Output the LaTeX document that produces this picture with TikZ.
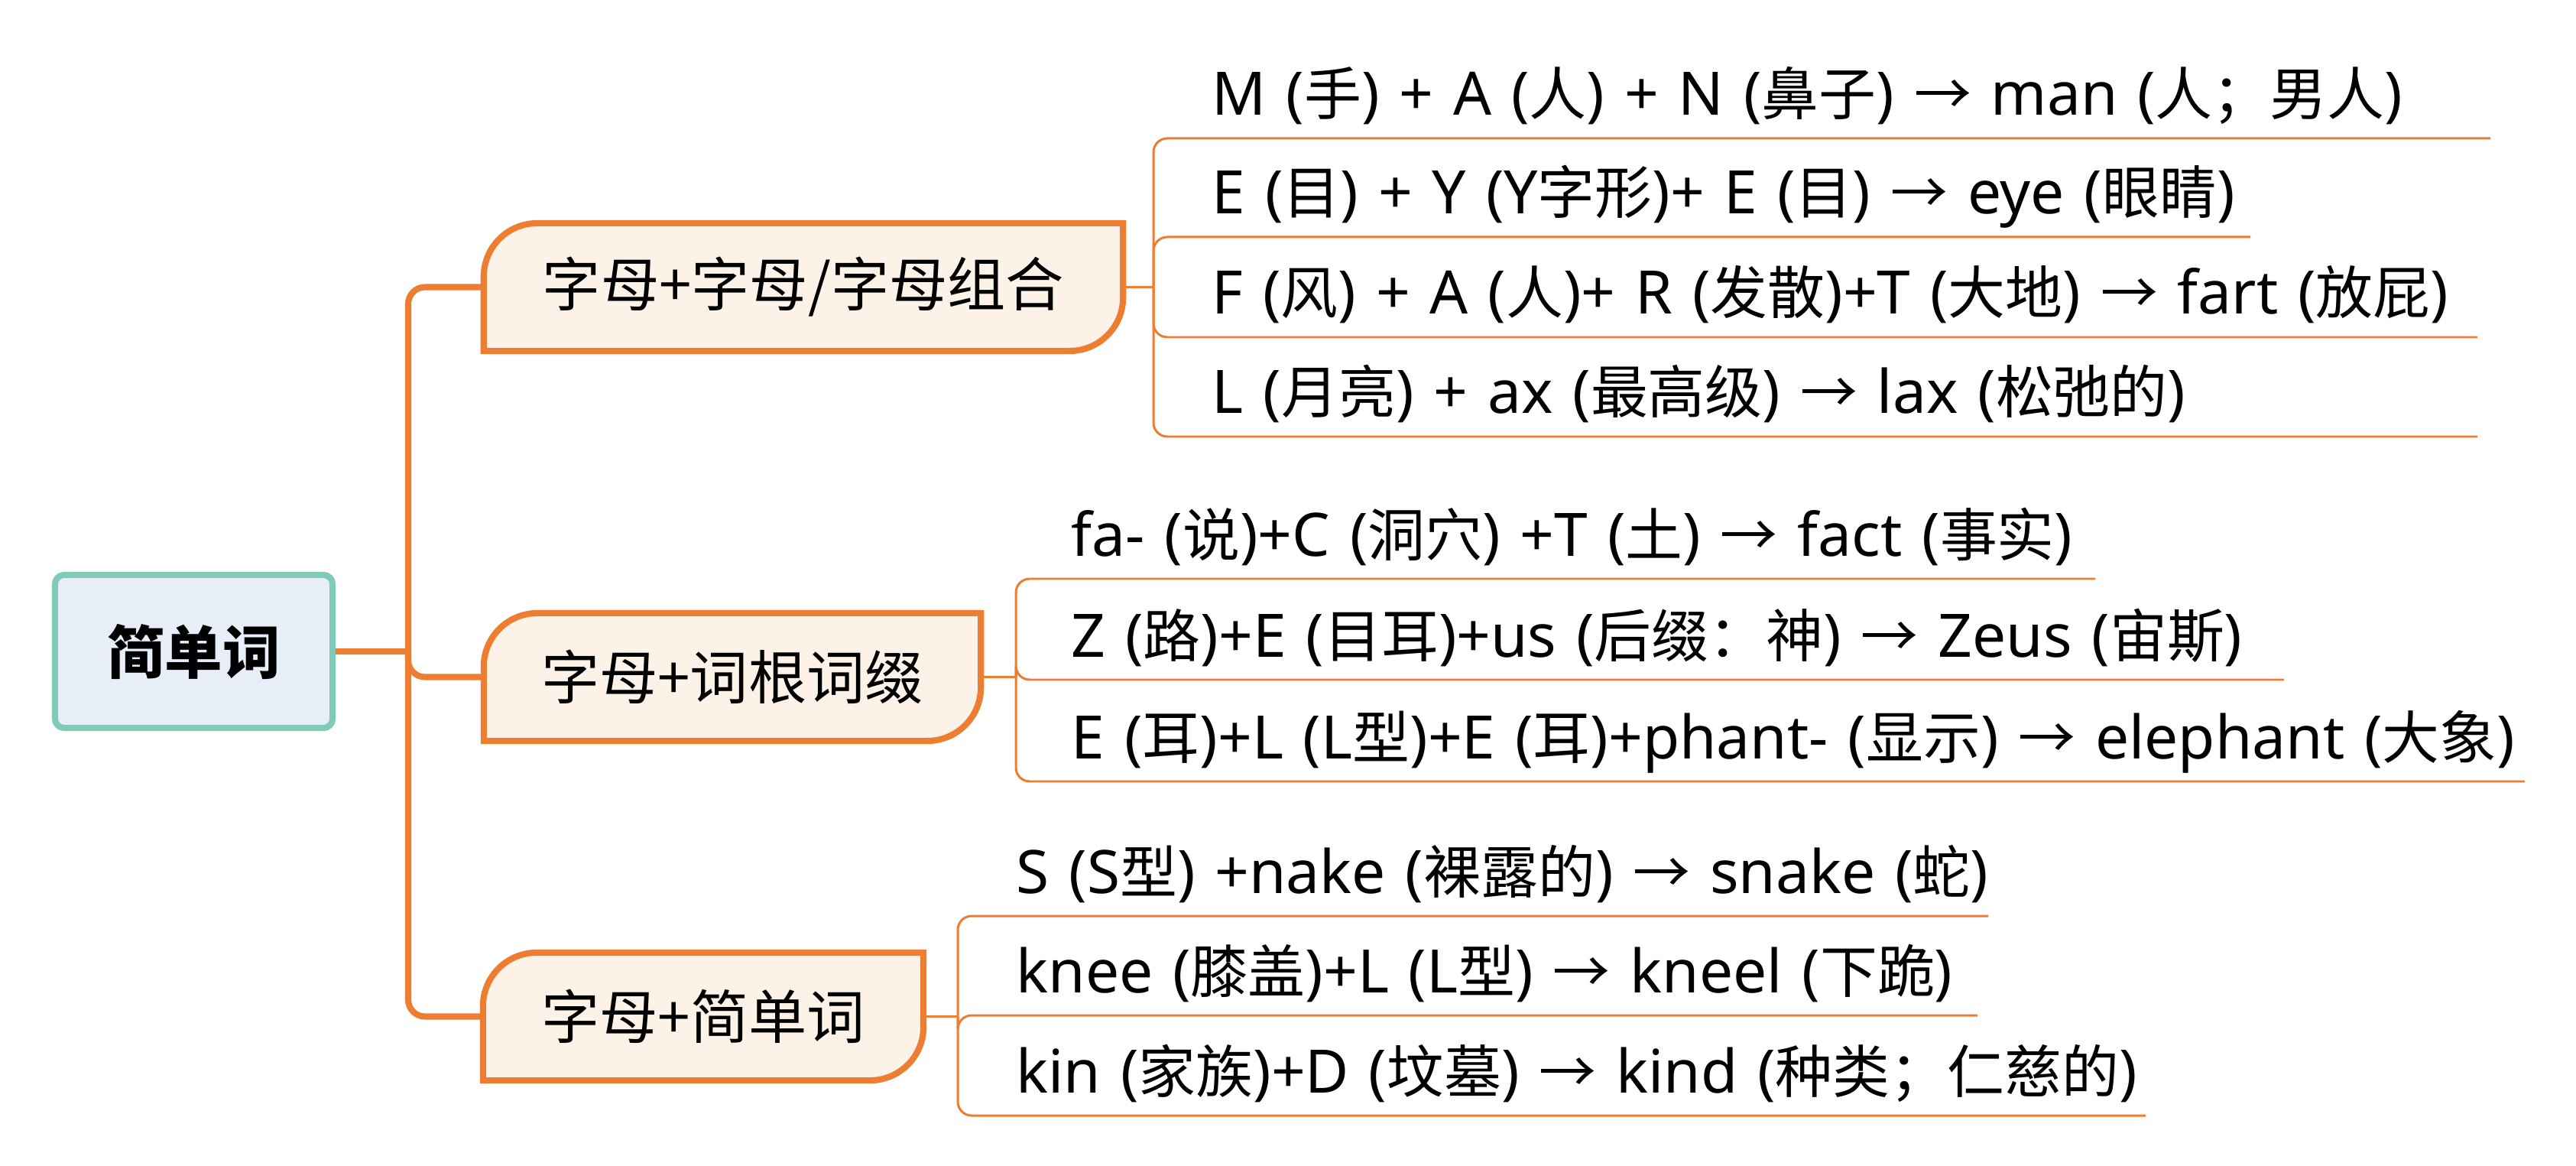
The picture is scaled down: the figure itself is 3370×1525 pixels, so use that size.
\documentclass[tikz,border=0pt]{standalone}
\usepackage{fontspec}
\setmainfont{Noto Sans}
\newfontfamily\cjk{Noto Sans CJK SC}[Scale=0.955]
\newcommand{\zh}[1]{{\cjk #1}}
\newcommand{\leaffont}{\fontsize{22.3pt}{26pt}\selectfont\spaceskip=0.33em\relax}
\usetikzlibrary{backgrounds}

\definecolor{mapline}{HTML}{ED7D31}
\definecolor{topicfill}{HTML}{FDF2E7}
\definecolor{rootfill}{HTML}{E8EEF8}
\definecolor{rootline}{HTML}{7FCBB8}

\newcommand{\topicshape}[1]{%
  \draw[topicline] (#1.south west) -- ([yshift=-0.7cm]#1.north west)
    arc[start angle=180, end angle=90, radius=0.7cm] -- (#1.north east)
    -- ([yshift=0.7cm]#1.south east)
    arc[start angle=0, end angle=-90, radius=0.7cm] -- cycle;}

\begin{document}
\begin{tikzpicture}[x=0.01cm, y=-0.01cm,
    root/.style={draw=rootline, fill=rootfill, line width=2.3pt, rounded corners=0.12cm,
      minimum width=3.63cm, minimum height=2cm, inner sep=0pt,
      font=\fontsize{22.5pt}{27pt}\cjk\bfseries},
    topic/.style={inner sep=0pt, outer sep=0pt, minimum height=1.67cm,
      font=\fontsize{22.7pt}{27pt}\cjk},
    topicline/.style={draw=mapline, fill=topicfill, line width=2.3pt},
    leaf/.style={anchor=base west, inner sep=0pt, font=\leaffont},
    trunk/.style={draw=mapline, line width=2.3pt, rounded corners=0.22cm},
    twig/.style={draw=mapline, line width=0.85pt, rounded corners=0.18cm}]
    \useasboundingbox (0,0) rectangle (3370,1525);

    % Central topic and the three main topics
    \node[root] (root) at (253.5, 852) {简单词};
    \node[topic, minimum width=8.36cm] (b1) at (1051, 375.5) {字母+字母/字母组合};
    \node[topic, minimum width=6.50cm] (b2) at (958, 885.5) {字母+词根词缀};
    \node[topic, minimum width=5.76cm] (b3) at (920, 1329.5) {字母+简单词};
    \begin{pgfonlayer}{background}
        \topicshape{b1}
        \topicshape{b2}
        \topicshape{b3}
    \end{pgfonlayer}

    % Junction points
    \coordinate (hub) at (534, 852);
    \coordinate (j1) at (1509, 375.5);
    \coordinate (j2) at (1329, 885.5);
    \coordinate (j3) at (1253, 1329.5);

    % Main branches
    \draw[trunk] (root.east) -- (hub);
    \draw[trunk] (hub) |- (b1.west);
    \draw[trunk] (hub) |- (b2.west);
    \draw[trunk] (hub) |- (b3.west);

    % Subtopics: letter + letter / letter group
    \node[leaf] (l11) at (1585, 151) {M (\zh{手}) + A (\zh{人}) + N (\zh{鼻子}) \zh{→} man (\zh{人；男人})};
    \node[leaf] (l12) at (1585, 280) {E (\zh{目}) + Y (Y\zh{字形})+ E (\zh{目}) \zh{→} eye (\zh{眼睛})};
    \node[leaf] (l13) at (1585, 411) {F (\zh{风}) + A (\zh{人})+ R (\zh{发散})+T (\zh{大地}) \zh{→} fart (\zh{放屁})};
    \node[leaf] (l14) at (1585, 541) {L (\zh{月亮}) + ax (\zh{最高级}) \zh{→} lax (\zh{松弛的})};
    \coordinate (u11) at (3258, 181);
    \coordinate (u12) at (2944, 310);
    \coordinate (u13) at (3241, 441);
    \coordinate (u14) at (3241, 571);
    \draw[twig] (b1.east) -- (j1);
    \draw[twig] (j1) |- (u11);
    \draw[twig] (j1) |- (u12);
    \draw[twig] (j1) |- (u13);
    \draw[twig] (j1) |- (u14);

    % Subtopics: letter + root / affix
    \node[leaf] (l21) at (1401, 727) {fa- (\zh{说})+C (\zh{洞穴}) +T (\zh{土}) \zh{→} fact (\zh{事实})};
    \node[leaf] (l22) at (1401, 859) {Z (\zh{路})+E (\zh{目耳})+us (\zh{后缀：神}) \zh{→} Zeus (\zh{宙斯})};
    \node[leaf] (l23) at (1401, 992) {E (\zh{耳})+L (L\zh{型})+E (\zh{耳})+phant- (\zh{显示}) \zh{→} elephant (\zh{大象})};
    \coordinate (u21) at (2741, 757);
    \coordinate (u22) at (2988, 889);
    \coordinate (u23) at (3303, 1022);
    \draw[twig] (b2.east) -- (j2);
    \draw[twig] (j2) |- (u21);
    \draw[twig] (j2) |- (u22);
    \draw[twig] (j2) |- (u23);

    % Subtopics: letter + simple word
    \node[leaf] (l31) at (1329, 1168) {S (S\zh{型}) +nake (\zh{裸露的}) \zh{→} snake (\zh{蛇})};
    \node[leaf] (l32) at (1329, 1298) {knee (\zh{膝盖})+L (L\zh{型}) \zh{→} kneel (\zh{下跪})};
    \node[leaf] (l33) at (1329, 1429) {kin (\zh{家族})+D (\zh{坟墓}) \zh{→} kind (\zh{种类；仁慈的})};
    \coordinate (u31) at (2601, 1198);
    \coordinate (u32) at (2587, 1328);
    \coordinate (u33) at (2807, 1459);
    \draw[twig] (b3.east) -- (j3);
    \draw[twig] (j3) |- (u31);
    \draw[twig] (j3) |- (u32);
    \draw[twig] (j3) |- (u33);
\end{tikzpicture}
\end{document}
